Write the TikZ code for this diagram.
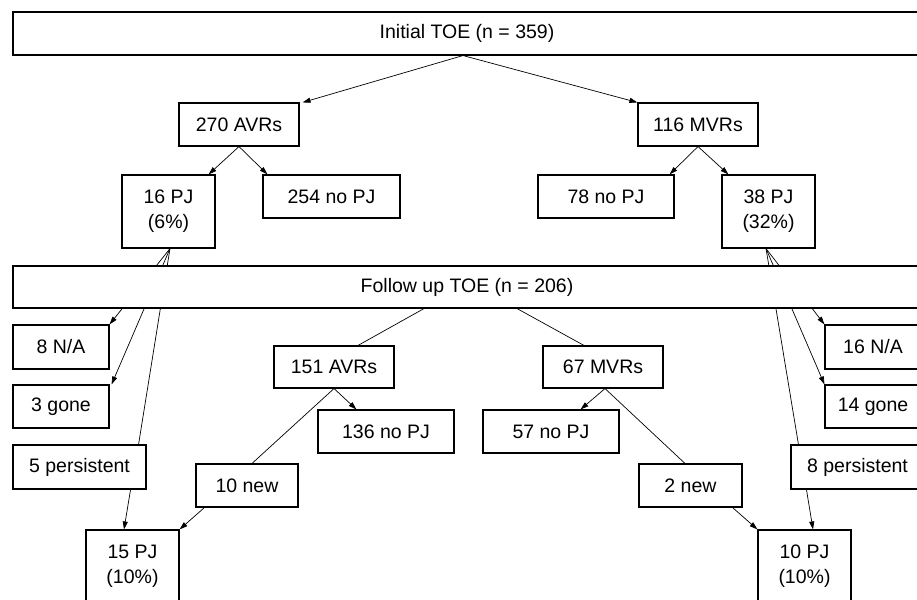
\documentclass[tikz,border=0pt]{standalone}
\usepackage{fontspec}
\setmainfont{Liberation Sans}
\usetikzlibrary{arrows.meta,backgrounds}
\begin{document}
\begin{tikzpicture}[x=1pt,y=-1pt,
  box/.style={draw,line width=1.1pt,fill=white,inner sep=0pt,align=center,font=\fontsize{19.5}{25}\selectfont},
  arr/.style={-{Triangle[length=8pt,width=5pt]},line width=0.7pt},
  ln/.style={line width=0.7pt}]
\clip (0,0) rectangle (917,599);
\useasboundingbox (0,0) rectangle (917,599);
% top level
\node[box,minimum width=908,minimum height=43] (init) at (467,33.5) {Initial TOE (n = 359)};
\node[box,minimum width=120,minimum height=43] (avr1) at (239,124.5) {270 AVRs};
\node[box,minimum width=120,minimum height=43] (mvr1) at (698,124.5) {116 MVRs};
\node[box,minimum width=93,minimum height=73] (pj16) at (168.5,211.5) {16 PJ\\(6\%)};
\node[box,minimum width=137,minimum height=43] (nopj254) at (331.5,196.5) {254 no PJ};
\node[box,minimum width=136,minimum height=43] (nopj78) at (606,196.5) {78 no PJ};
\node[box,minimum width=93,minimum height=73] (pj38) at (768.5,211.5) {38 PJ\\(32\%)};
% follow up
\node[box,minimum width=908,minimum height=42] (follow) at (467,287) {Follow up TOE (n = 206)};
\node[box,minimum width=96,minimum height=44] (na8) at (61,347) {8 N/A};
\node[box,minimum width=96,minimum height=43] (gone3) at (61,406.5) {3 gone};
\node[box,minimum width=133,minimum height=44] (pers5) at (79.5,467) {5 persistent};
\node[box,minimum width=120,minimum height=42] (avr2) at (334,367) {151 AVRs};
\node[box,minimum width=136,minimum height=43] (nopj136) at (386,431.5) {136 no PJ};
\node[box,minimum width=102,minimum height=43] (new10) at (247,485.5) {10 new};
\node[box,minimum width=93,minimum height=73] (pj15) at (132.5,566.5) {15 PJ\\(10\%)};
\node[box,minimum width=120,minimum height=42] (mvr2) at (603,367) {67 MVRs};
\node[box,minimum width=136,minimum height=43] (nopj57) at (551,431.5) {57 no PJ};
\node[box,minimum width=103,minimum height=43] (new2) at (690.5,485.5) {2 new};
\node[box,minimum width=93,minimum height=73] (pj10) at (804.5,566.5) {10 PJ\\(10\%)};
\node[box,minimum width=96,minimum height=44] (na16) at (873,347) {16 N/A};
\node[box,minimum width=96,minimum height=43] (gone14) at (873,406.5) {14 gone};
\node[box,minimum width=133,minimum height=44] (pers8) at (857.5,467) {8 persistent};
\begin{pgfonlayer}{background}
\draw[arr] ([xshift=-4]init.south) -- ([xshift=3]avr1.north east);
\draw[arr] ([xshift=-4]init.south) -- (mvr1.north west);
\draw[arr] (avr1.south) -- ([xshift=-7]pj16.north east);
\draw[arr] (avr1.south) -- ([xshift=5]nopj254.north west);
\draw[arr] (mvr1.south) -- ([xshift=-5]nopj78.north east);
\draw[arr] (mvr1.south) -- ([xshift=7]pj38.north west);
\draw[arr] ([xshift=1.5]pj16.south) -- (na8.north east);
\draw[arr] ([xshift=1.5]pj16.south) -- ([xshift=2]gone3.north east);
\draw[ln] ([xshift=1.5]pj16.south) -- ([xshift=-8]pers5.north east);
\draw[arr] ([xshift=-16]pers5.south east) -- ([xshift=-8.5]pj15.north);
\draw[arr] ([xshift=9]new10.south west) -- (pj15.north east);
\draw[ln] ([xshift=-43]follow.south) -- ([xshift=24]avr2.north);
\draw[arr] (avr2.south) -- ([xshift=39]nopj136.north west);
\draw[ln] (avr2.south) -- ([xshift=5]new10.north);
\draw[ln] ([xshift=50]follow.south) -- ([xshift=-19]mvr2.north);
\draw[arr] ([xshift=2]mvr2.south) -- ([xshift=-39]nopj57.north east);
\draw[ln] ([xshift=2]mvr2.south) -- ([xshift=-5.5]new2.north);
\draw[arr] ([xshift=-10]new2.south east) -- (pj10.north west);
\draw[arr] ([xshift=16]pers8.south west) -- ([xshift=8.5]pj10.north);
\draw[arr] ([xshift=-2.5]pj38.south) -- (na16.north west);
\draw[arr] ([xshift=-2.5]pj38.south) -- (gone14.north west);
\draw[ln] ([xshift=-2.5]pj38.south) -- ([xshift=8]pers8.north west);
\end{pgfonlayer}
\end{tikzpicture}
\end{document}
